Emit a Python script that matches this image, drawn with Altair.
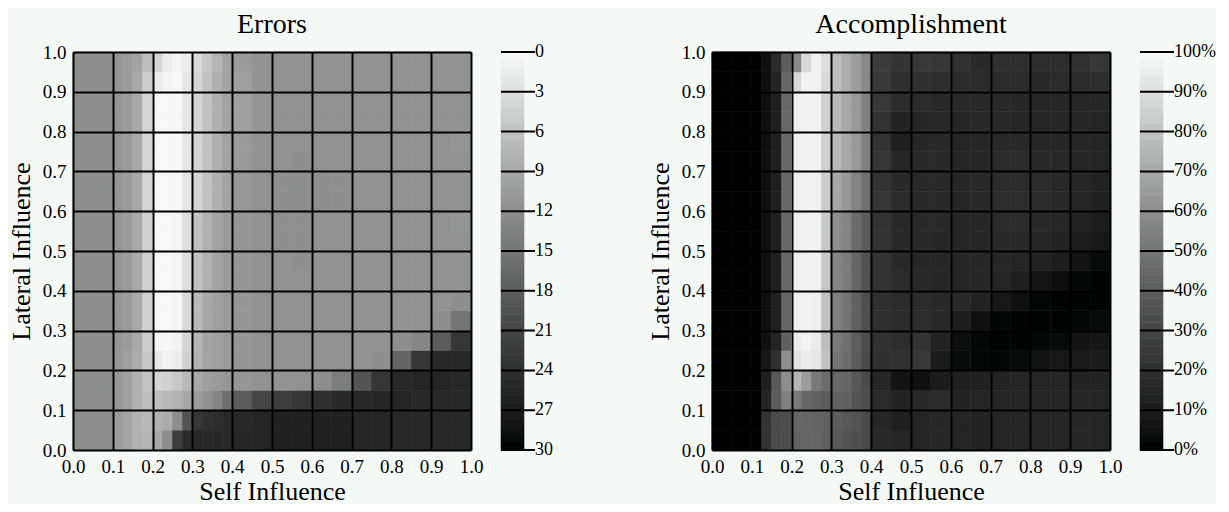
import altair as alt
import pandas as pd
import numpy as np

FONT = "Liberation Serif"
BG = "#f5f9f5"

# Grid ticks
TICKS = [0.0, 0.1, 0.2, 0.3, 0.4, 0.5, 0.6, 0.7, 0.8, 0.9, 1.0]
# Cell edges along Self Influence (finer between 0.1 and 0.4)
X_EDGES = [0.0, 0.05, 0.1, 0.125, 0.15, 0.175, 0.2, 0.225, 0.25, 0.275, 0.3, 0.325, 0.35, 0.375, 0.4,
           0.45, 0.5, 0.55, 0.6, 0.65, 0.7, 0.75, 0.8, 0.85, 0.9, 0.95, 1.0]
# Cell edges along Lateral Influence
Y_EDGES = [0.0, 0.05, 0.1, 0.15, 0.2, 0.25, 0.3, 0.35, 0.4, 0.45, 0.5,
           0.55, 0.6, 0.65, 0.7, 0.75, 0.8, 0.85, 0.9, 0.95, 1.0]

# Errors (0..30), rows bottom (y=0) to top (y=1)
ERR_ROWS = [
    [12, 12, 10.5, 9.5, 8, 7.5, 9, 12, 22, 24.5, 25, 25, 25, 25, 25.5, 25.5, 26, 26, 26, 26, 25.5, 25.5, 25, 25, 25, 25],
    [12, 12, 10.5, 9.5, 8, 7, 8, 8.5, 12, 19, 23, 24, 24.5, 25, 25, 25.5, 26, 26, 26, 26, 25.5, 25.5, 25, 25, 25, 25],
    [12, 12, 11, 10, 8, 6.5, 6.5, 7, 8, 9, 10.5, 11.5, 13, 15.5, 18, 21, 22, 23, 24, 25, 25, 25.5, 25.5, 25, 25, 25],
    [12, 12, 11, 10, 8, 6, 4, 4.5, 5.5, 7, 9, 10, 10.5, 11, 11, 11.5, 11.5, 11.5, 12, 14, 19, 23, 25, 25.5, 25.5, 25],
    [12, 12, 11, 10, 8.5, 5.5, 2, 1, 1.5, 4.5, 8, 9.5, 10, 10.5, 11, 11.5, 11.5, 11.5, 11.5, 11.5, 11.5, 12, 17, 23, 25, 25],
    [12, 12, 11.2, 10.5, 9, 5, 0.5, 0.3, 0.8, 4, 7.5, 9.5, 10, 10.5, 11, 11.5, 11.5, 11.5, 11.5, 11.5, 11.5, 11.5, 12, 13, 18, 23],
    [12, 12, 11.2, 10.5, 9, 4.5, 0.3, 0.2, 0.5, 3.5, 7, 9, 10, 10.5, 11, 11.5, 11.5, 11.5, 11.5, 11.5, 11.5, 11.5, 11.5, 11.5, 12, 15],
    [12, 12, 11.2, 10.5, 9, 4.5, 0.3, 0.2, 0.5, 3.5, 7, 9, 10, 10.5, 11, 11.5, 11.5, 11.5, 11.5, 11.5, 11.5, 11.5, 11.5, 11.5, 11.5, 12],
    [12, 12, 11.2, 10.5, 9, 4.5, 0.3, 0.2, 0.5, 3, 6, 8, 9.5, 10.5, 11, 11.5, 11.5, 11.5, 11.5, 11.5, 11.5, 11.5, 11.5, 11.5, 11.5, 11.5],
    [12, 12, 11.2, 10.5, 9, 4.5, 0.3, 0.2, 0.5, 3, 6, 8, 9.5, 10.5, 11, 11.5, 11.5, 11.8, 11.5, 11.5, 11.5, 11.5, 11.5, 11.5, 11.5, 11.5],
    [12, 12, 11.2, 10.5, 9, 4.5, 0.3, 0.2, 0.5, 3, 6, 8, 9.5, 10.5, 11, 11.5, 11.8, 11.8, 11.5, 11.5, 11.5, 11.5, 11.5, 11.5, 11.5, 11.5],
    [12, 12, 11.2, 10.5, 9, 4.5, 0.3, 0.2, 0.5, 3, 6, 8, 9.5, 10.5, 11, 11.5, 11.8, 11.8, 11.5, 11.5, 11.5, 11.5, 11.5, 11.5, 11.5, 11.2],
    [12, 12, 11.2, 10.5, 9, 4, 0.3, 0.2, 0.3, 2, 4, 6, 8, 9.5, 10.8, 11.5, 11.8, 12, 12, 11.8, 11.5, 11.5, 11.5, 11.5, 11.5, 11.5],
    [12, 12, 11.2, 10.5, 9, 4, 0.3, 0.2, 0.3, 2, 4, 6, 8, 9.5, 10.8, 11.5, 11.8, 12, 12, 11.8, 11.5, 11.5, 11.5, 11.5, 11.5, 11.5],
    [12, 12, 11.2, 10.5, 9, 4, 0.3, 0.2, 0.3, 2, 4, 6, 8, 9.5, 10.5, 11.5, 11.5, 11.8, 11.5, 11.5, 11.5, 11.5, 11.5, 11.5, 11.5, 11.5],
    [12, 12, 11.2, 10.5, 9, 4, 0.3, 0.2, 0.3, 2, 4, 6, 8, 9.5, 10.5, 11.5, 11.5, 11.5, 11.5, 11.5, 11.5, 11.5, 11.5, 11.5, 11.5, 11.2],
    [12, 12, 11.2, 10.5, 9, 4, 0.3, 0.2, 0.3, 2, 4, 6, 8, 9.5, 10, 11.2, 11.5, 11.5, 11.5, 11.5, 11.5, 11.5, 11.5, 11.5, 11.5, 11.5],
    [12, 12, 11.2, 10.5, 9, 4, 0.3, 0.2, 0.3, 2, 4, 6, 8, 9.5, 10, 11.2, 11.5, 11.5, 11.5, 11.5, 11.5, 11.5, 11.5, 11.5, 11.5, 11.5],
    [12, 12, 11.2, 10.5, 9, 5, 1.5, 0.5, 0.3, 2, 4, 6, 8, 9.5, 10, 11.5, 11.5, 11.5, 11.5, 11.5, 11.5, 11.5, 11.5, 11.5, 11.5, 11.5],
    [12, 12, 11.2, 10.5, 9.5, 6.5, 4, 1.5, 0.5, 1.5, 3.5, 5.5, 7.5, 9.5, 10.5, 11.5, 11.5, 11.5, 11.5, 11.5, 11.5, 11.5, 11.5, 11.5, 11.5, 11.5],
]

# Accomplishment (%), rows bottom (y=0) to top (y=1)
ACC_ROWS = [
    [0, 0, 0, 22, 33, 33, 43, 44, 44, 42, 38, 36, 34, 32, 17, 15, 15, 16, 15, 14, 15, 15, 15, 15, 16, 15],
    [0, 0, 0, 22, 32, 33, 44, 44, 43, 42, 40, 38, 36, 32, 16, 12, 15, 16, 15, 14, 15, 15, 15, 15, 16, 15],
    [0, 0, 0, 15, 40, 55, 52, 45, 42, 40, 42, 42, 36, 33, 18, 14, 17, 18, 14, 15, 15, 15, 15, 15, 16, 15],
    [0, 0, 0, 12, 38, 60, 75, 65, 52, 46, 45, 44, 38, 32, 16, 6, 5, 10, 12, 13, 14, 15, 15, 15, 14, 14],
    [0, 0, 0, 8, 20, 60, 92, 95, 93, 80, 50, 46, 40, 32, 20, 21, 24, 10, 3, 2, 2, 3, 6, 8, 9, 10],
    [0, 0, 0, 5, 14, 42, 95, 97, 95, 78, 52, 48, 40, 33, 21, 19, 22, 14, 4, 2, 1, 1, 2, 3, 6, 7],
    [0, 0, 0, 4, 12, 44, 96, 97, 96, 80, 55, 50, 42, 34, 20, 18, 19, 17, 11, 5, 2, 1, 1, 1, 2, 3],
    [0, 0, 0, 4, 12, 44, 96, 97, 96, 80, 55, 50, 42, 34, 20, 18, 18, 17, 17, 14, 8, 5, 2, 1, 1, 1],
    [0, 0, 0, 4, 12, 45, 96, 97, 97, 82, 57, 53, 44, 36, 22, 18, 17, 16, 16, 16, 15, 12, 7, 4, 2, 1],
    [0, 0, 0, 4, 12, 45, 96, 97, 97, 82, 57, 53, 44, 36, 22, 17, 16, 16, 16, 16, 16, 15, 14, 11, 6, 3],
    [0, 0, 0, 4, 12, 45, 96, 97, 97, 82, 60, 56, 46, 40, 22, 17, 17, 16, 16, 16, 17, 17, 16, 14, 11, 8],
    [0, 0, 0, 4, 12, 45, 96, 97, 97, 82, 60, 56, 46, 40, 22, 17, 17, 17, 16, 16, 18, 18, 17, 16, 14, 11],
    [0, 0, 0, 4, 12, 45, 96, 97, 97, 84, 70, 64, 56, 48, 23, 18, 17, 17, 16, 17, 19, 19, 18, 17, 15, 13],
    [0, 0, 0, 4, 12, 45, 96, 97, 97, 84, 70, 64, 56, 48, 22, 17, 17, 17, 16, 17, 18, 18, 18, 17, 16, 14],
    [0, 0, 0, 4, 12, 45, 96, 97, 97, 85, 76, 70, 64, 55, 23, 16, 17, 17, 16, 16, 18, 18, 17, 17, 16, 15],
    [0, 0, 0, 4, 12, 45, 96, 97, 97, 85, 76, 70, 64, 55, 22, 12, 16, 17, 15, 16, 17, 17, 16, 16, 16, 15],
    [0, 0, 0, 4, 12, 45, 96, 97, 97, 85, 76, 70, 64, 55, 22, 14, 16, 17, 16, 17, 17, 16, 15, 16, 16, 15],
    [0, 0, 0, 4, 12, 45, 96, 97, 97, 85, 76, 70, 64, 55, 24, 18, 18, 17, 17, 17, 17, 16, 16, 16, 16, 16],
    [0, 0, 0, 4, 14, 45, 88, 97, 97, 88, 78, 72, 66, 58, 25, 20, 20, 19, 18, 18, 18, 18, 17, 18, 18, 19],
    [0, 0, 0, 5, 18, 40, 58, 88, 97, 90, 78, 72, 66, 58, 26, 22, 24, 23, 21, 17, 20, 20, 19, 19, 21, 23],
]

ERR_TICKS = [0, 3, 6, 9, 12, 15, 18, 21, 24, 27, 30]
ERR_LABELS = ["0", "3", "6", "9", "12", "15", "18", "21", "24", "27", "30"]
ACC_TICKS = [0, 10, 20, 30, 40, 50, 60, 70, 80, 90, 100]
ACC_LABELS = ["0%", "10%", "20%", "30%", "40%", "50%", "60%", "70%", "80%", "90%", "100%"]


def grid_df(rows):
    recs = []
    for r, row in enumerate(rows):
        for c, v in enumerate(row):
            recs.append(dict(x0=X_EDGES[c], x1=X_EDGES[c + 1], y0=Y_EDGES[r], y1=Y_EDGES[r + 1], v=v))
    return pd.DataFrame(recs)


def band_df(lo, hi, n=50):
    edges = np.linspace(lo, hi, n + 1)
    return pd.DataFrame(dict(b0=edges[:-1], b1=edges[1:], mid=(edges[:-1] + edges[1:]) / 2))


W = 398
H = 398


def panel(rows, title, cdomain, crange, reverse_bar, ticks, labels):
    cscale = alt.Scale(domain=cdomain, range=crange, clamp=True)
    common_axis = dict(
        values=TICKS, format=".1f", labelFlush=False, labelOverlap=False,
        grid=True, gridColor="black", gridWidth=2, gridOpacity=1, zindex=1,
        ticks=False, domain=False, labelFont=FONT, labelFontSize=19, labelColor="black",
        titleFont=FONT, titleFontSize=26, titleFontWeight="normal", titleColor="black",
        labelPadding=7,
    )
    heat = alt.Chart(grid_df(rows)).mark_rect(strokeWidth=0.6).encode(
        x=alt.X("x0:Q", scale=alt.Scale(domain=[0, 1], nice=False, zero=False),
                axis=alt.Axis(title="Self Influence", titlePadding=2, **common_axis)),
        x2="x1:Q",
        y=alt.Y("y0:Q", scale=alt.Scale(domain=[0, 1], nice=False, zero=False),
                axis=alt.Axis(title="Lateral Influence", titlePadding=8, **common_axis)),
        y2="y1:Q",
        color=alt.Color("v:Q", scale=cscale, legend=None),
        stroke=alt.Stroke("v:Q", scale=cscale, legend=None),
    )
    yscale = alt.Scale(domain=[cdomain[0], cdomain[1]], nice=False, zero=False, reverse=reverse_bar)
    bx0, bx1 = W + 30, W + 53
    bar = alt.Chart(band_df(cdomain[0], cdomain[1])).mark_rect(strokeWidth=0.6).encode(
        x=alt.value(bx0), x2=alt.value(bx1),
        y=alt.Y("b0:Q", scale=yscale, axis=None), y2="b1:Q",
        color=alt.Color("mid:Q", scale=cscale, legend=None),
        stroke=alt.Stroke("mid:Q", scale=cscale, legend=None),
    )
    tdf = pd.DataFrame(dict(val=ticks, label=labels))
    rule = alt.Chart(tdf).mark_rule(color="black", strokeWidth=2).encode(
        y=alt.Y("val:Q", scale=yscale, axis=None),
        x=alt.value(bx0), x2=alt.value(bx1 + 11),
    )
    text = alt.Chart(tdf).mark_text(align="left", baseline="middle", font=FONT, fontSize=18, color="black").encode(
        y=alt.Y("val:Q", scale=yscale, axis=None),
        x=alt.value(bx1 + 11),
        text="label:N",
    )
    return alt.layer(heat, bar, rule, text).resolve_scale(y="independent").properties(
        width=W, height=H,
        title=alt.Title(title, font=FONT, fontSize=28, fontWeight="normal", color="black", offset=4),
    )


left = panel(ERR_ROWS, "Errors", [0, 30], ["#f8fbf8", "#000000"], True, ERR_TICKS, ERR_LABELS)
right = panel(ACC_ROWS, "Accomplishment", [0, 100], ["#000000", "#f8fbf8"], False, ACC_TICKS, ACC_LABELS)

chart = alt.hconcat(left, right, spacing=94).resolve_scale(
    color="independent", stroke="independent"
).properties(
    background=BG, padding={"left": 0, "right": 0, "top": 3, "bottom": 0}
).configure_view(stroke=None)

chart.save("out.html", embed_options={"renderer": "svg", "actions": False})
